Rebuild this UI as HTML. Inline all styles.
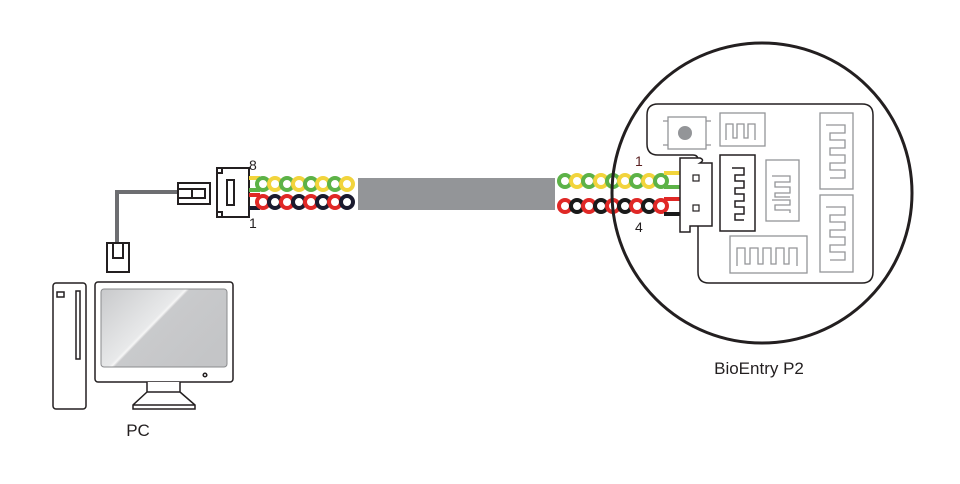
<!DOCTYPE html>
<html><head><meta charset="utf-8"><style>
html,body{margin:0;padding:0;background:#fff;}
svg{display:block}
text{font-family:"Liberation Sans",sans-serif;}
</style></head><body>
<svg width="960" height="484" viewBox="0 0 960 484" xmlns="http://www.w3.org/2000/svg">
<rect width="960" height="484" fill="#fff"/>
<!-- gray cable to plug -->
<path d="M178 192 H117 V245" fill="none" stroke="#6d6e71" stroke-width="4"/>
<!-- RJ45 horizontal plug -->
<g fill="#fff" stroke="#231f20" stroke-width="2">
<rect x="178" y="183" width="32" height="21"/>
<path d="M178 189 H192 V198 H178" fill="none"/>
<path d="M192 189 H205 V198 H192" fill="none"/>
</g>
<!-- vertical plug -->
<g fill="#fff" stroke="#231f20" stroke-width="2">
<rect x="107" y="243" width="22" height="29"/>
<path d="M113 243 V258 H123 V243" fill="none"/>
</g>
<!-- left connector -->
<g fill="#fff" stroke="#231f20" stroke-width="2">
<rect x="217" y="168" width="32" height="49"/>
<rect x="227" y="180" width="7" height="25"/>
<rect x="217" y="168" width="5" height="5"/>
<rect x="217" y="212" width="5" height="5"/>
</g>
<!-- leads left -->
<g fill="none" stroke-width="4">
<path d="M249 178 H260" stroke="#f2d43c"/>
<path d="M249 190 H260" stroke="#5cb247"/>
<path d="M249 195 H260" stroke="#e02826"/>
<path d="M249 208 H260" stroke="#1a1a2e"/>
</g>
<g fill="none" stroke-width="4">
<circle cx="263" cy="184" r="6" stroke="#5cb247"/><circle cx="275" cy="184" r="6" stroke="#f2d43c"/>
<circle cx="287" cy="184" r="6" stroke="#5cb247"/><circle cx="299" cy="184" r="6" stroke="#f2d43c"/>
<circle cx="311" cy="184" r="6" stroke="#5cb247"/><circle cx="323" cy="184" r="6" stroke="#f2d43c"/>
<circle cx="335" cy="184" r="6" stroke="#5cb247"/><circle cx="347" cy="184" r="6" stroke="#f2d43c"/>
<circle cx="263" cy="202" r="6" stroke="#e02826"/><circle cx="275" cy="202" r="6" stroke="#1a1a2e"/>
<circle cx="287" cy="202" r="6" stroke="#e02826"/><circle cx="299" cy="202" r="6" stroke="#1a1a2e"/>
<circle cx="311" cy="202" r="6" stroke="#e02826"/><circle cx="323" cy="202" r="6" stroke="#1a1a2e"/>
<circle cx="335" cy="202" r="6" stroke="#e02826"/><circle cx="347" cy="202" r="6" stroke="#1a1a2e"/>
</g>
<!-- right rings -->
<g fill="none" stroke-width="4">
<circle cx="565" cy="181" r="6" stroke="#5cb247"/><circle cx="577" cy="181" r="6" stroke="#f2d43c"/>
<circle cx="589" cy="181" r="6" stroke="#5cb247"/><circle cx="601" cy="181" r="6" stroke="#f2d43c"/>
<circle cx="613" cy="181" r="6" stroke="#5cb247"/><circle cx="625" cy="181" r="6" stroke="#f2d43c"/>
<circle cx="637" cy="181" r="6" stroke="#5cb247"/><circle cx="649" cy="181" r="6" stroke="#f2d43c"/>
<circle cx="661" cy="181" r="6" stroke="#5cb247"/>
<circle cx="565" cy="206" r="6" stroke="#e02826"/><circle cx="577" cy="206" r="6" stroke="#1a1a1a"/>
<circle cx="589" cy="206" r="6" stroke="#e02826"/><circle cx="601" cy="206" r="6" stroke="#1a1a1a"/>
<circle cx="613" cy="206" r="6" stroke="#e02826"/><circle cx="625" cy="206" r="6" stroke="#1a1a1a"/>
<circle cx="637" cy="206" r="6" stroke="#e02826"/><circle cx="649" cy="206" r="6" stroke="#1a1a1a"/>
<circle cx="661" cy="206" r="6" stroke="#e02826"/>
<path d="M664 173 H682" stroke="#f2d43c"/>
<path d="M664 187 H682" stroke="#5cb247"/>
<path d="M664 199 H682" stroke="#e02826"/>
<path d="M664 214 H682" stroke="#1a1a1a"/>
</g>
<!-- gray cable body -->
<rect x="358" y="178" width="197" height="32" fill="#939598"/>
<!-- circle -->
<circle cx="762" cy="193" r="150" fill="none" stroke="#231f20" stroke-width="3"/>
<!-- board -->
<path d="M658 104 H862 Q873 104 873 115 V272 Q873 283 862 283 H709 Q698 283 698 272 V160 Q698 155 693 155 H658 Q647 155 647 144 V115 Q647 104 658 104 Z" fill="#fff" stroke="#231f20" stroke-width="1.5"/>
<g fill="none" stroke="#939598" stroke-width="1.3">
<rect x="668" y="117" width="38" height="32"/>
<path d="M663 121 H668 M706 121 H711 M663 145 H668 M706 145 H711"/>
<rect x="720" y="113" width="45" height="33"/>
<path d="M726 140 V124 H733 V138 H737 V124 H744 V138 H748 V124 H755 V140"/>
<rect x="766" y="160" width="33" height="61"/>
<path d="M772 200 H790 V205 H775 V210 H790 V213"/>
<path d="M772 176 H790 V182 H775 V187 H790 V193 H775 V197 H790"/>
<rect x="820" y="113" width="33" height="76"/>
<path d="M826 125 H845 V133 H830 V140 H845 V148 H830 V155 H845 V163 H830 V170 H845 V178 H830"/>
<rect x="820" y="195" width="33" height="77"/>
<path d="M826 207 H845 V215 H830 V222 H845 V230 H830 V237 H845 V245 H830 V252 H845 V260 H830"/>
<rect x="730" y="236" width="77" height="37"/>
<path d="M737 266 V248 H745 V264 H750 V248 H758 V264 H763 V248 H771 V264 H776 V248 H784 V264 H789 V248 H797 V266"/>
</g>
<g fill="none" stroke="#231f20" stroke-width="1.5">
<rect x="720" y="155" width="35" height="76"/>
<path d="M732 168 H744 V175 H735 V181 H744 V188 H735 V194 H744 V201 H735 V207 H744 V214 H735 V220 H744"/>
</g>
<!-- white connector on board -->
<path d="M680 158 H700 Q705 160 700 163 H712 V226 H690 V232 H680 Z" fill="#fff" stroke="#231f20" stroke-width="1.5"/>
<rect x="693" y="175" width="6" height="6" fill="none" stroke="#231f20" stroke-width="1.2"/>
<rect x="693" y="205" width="6" height="6" fill="none" stroke="#231f20" stroke-width="1.2"/>
<circle cx="685" cy="133" r="7" fill="#939598"/>
<!-- PC tower -->
<g fill="#fff" stroke="#231f20" stroke-width="1.5">
<rect x="53" y="283" width="33" height="126" rx="3"/>
<rect x="57" y="292" width="7" height="5"/>
<rect x="76" y="291" width="4" height="68"/>
<rect x="95" y="282" width="138" height="100" rx="3"/>
<path d="M147 382 V392 H180 V382 M147 392 L133 405 V409 H195 V405 L180 392 M133 405 H195"/>
<circle cx="205" cy="375" r="1.8"/>
</g>
<defs><linearGradient id="g" x1="0" y1="0" x2="1" y2="0.6">
<stop offset="0" stop-color="#c8c9cb"/><stop offset="0.48" stop-color="#e8e9ea"/><stop offset="0.5" stop-color="#f6f6f6"/><stop offset="0.52" stop-color="#c9cacc"/><stop offset="1" stop-color="#c4c5c7"/></linearGradient></defs>
<rect x="101" y="289" width="126" height="78" rx="3" fill="url(#g)" stroke="#8a8b8d" stroke-width="1"/>
<!-- labels -->
<text x="249" y="170" font-size="14" fill="#231f20">8</text>
<text x="249" y="228" font-size="14" fill="#231f20">1</text>
<text x="635" y="166" font-size="14" fill="#5a1f20">1</text>
<text x="635" y="232" font-size="14" fill="#231f20">4</text>
<text x="138" y="436" font-size="17" fill="#231f20" text-anchor="middle">PC</text>
<text x="759" y="374" font-size="17" fill="#231f20" text-anchor="middle">BioEntry P2</text>
</svg>
</body></html>
